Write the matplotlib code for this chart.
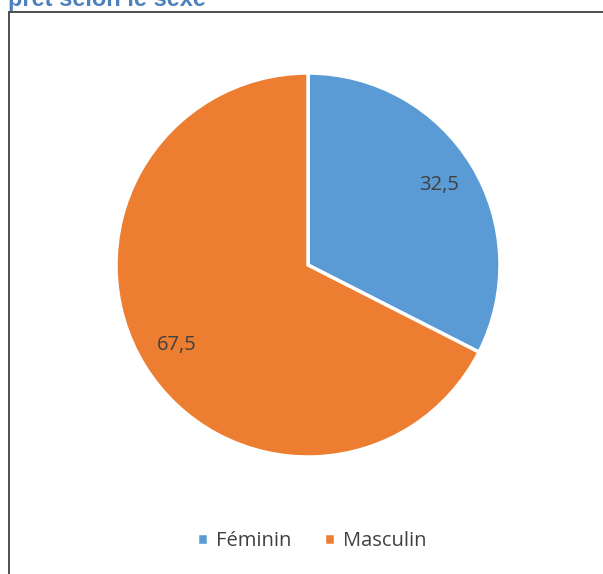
import matplotlib
matplotlib.use("Agg")
import matplotlib.pyplot as plt
from matplotlib.patches import Rectangle

categories = ["Féminin", "Masculin"]
values = [32.5, 67.5]
colors = ["#5B9BD5", "#ED7D31"]
title_text = "prêt selon le sexe"

W, H = 603, 574
fig = plt.figure(figsize=(W / 100, H / 100), dpi=100)

# chart frame (extends past right and bottom edges)
fig.patches.append(Rectangle((9 / W, -0.1), 1.2, 1 - 12 / H + 0.1,
                             transform=fig.transFigure, fill=False,
                             edgecolor="#404040", linewidth=1.3))

# title, mostly cut off by the top edge
fig.text(8 / W, 1 - 6 / H, title_text, ha="left", va="baseline",
         fontsize=17, fontweight="bold", color="#4F81BD",
         family="Liberation Sans")

cx, cy, r = 308, 265, 192
ax = fig.add_axes([(cx - r) / W, (H - cy - r) / H, 2 * r / W, 2 * r / H])
wedges, texts = ax.pie(values, colors=colors, startangle=90, counterclock=False,
                       labels=[f"{v:.1f}".replace(".", ",") for v in values],
                       labeldistance=0.8,
                       wedgeprops=dict(edgecolor="white", linewidth=2.5),
                       textprops=dict(fontsize=14.5, color="#404040", family="Open Sans",
                                      ha="center", va="center"))
ax.set_xlim(-1, 1)
ax.set_ylim(-1, 1)
ax.set_aspect("equal")

fig.legend(wedges, categories, loc="center", bbox_to_anchor=(312 / W, 1 - 541 / H),
           ncol=2, frameon=False, handlelength=0.55, handleheight=0.55,
           handletextpad=0.4, columnspacing=1.6,
           prop=dict(family="Open Sans", size=14.5), labelcolor="#404040")

fig.savefig("out.png", dpi=100)
